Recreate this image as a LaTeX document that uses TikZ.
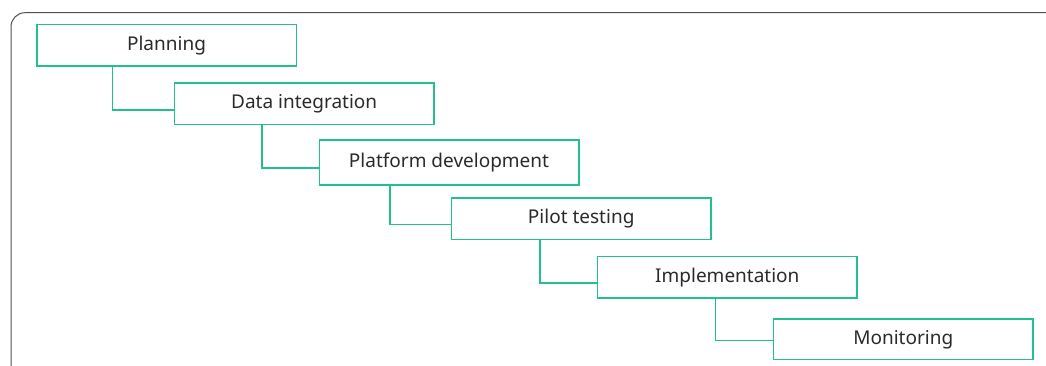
\documentclass[tikz,border=0pt]{standalone}
\usepackage{fontspec}
\setmainfont{Noto Sans}
\definecolor{boxgreen}{HTML}{22BF90}
\definecolor{txt}{HTML}{2A2A2A}
\definecolor{frame}{HTML}{505050}
\begin{document}
\begin{tikzpicture}[x=1pt,y=-1pt,
  stage/.style={draw=boxgreen,line width=1.5pt,minimum width=259.5pt,inner sep=0pt,
    text=txt,font=\fontsize{19pt}{22pt}\selectfont,text height=13.5pt,text depth=3.1pt},
  link/.style={draw=boxgreen,line width=1.5pt}]
\useasboundingbox (0,0) rectangle (1046,365);
\begin{scope}
\clip (0,0) rectangle (1046,365);
\draw[frame,line width=1pt,rounded corners=14pt] (11,380) -- (11,12.7) -- (1100,12.7) -- (1100,380) -- cycle;
\end{scope}
\node[stage,minimum height=41.3pt] (n1) at (166.5,45.35) {Planning};
\node[stage,minimum height=41.5pt] (n2) at (304.2,103.75) {Data integration};
\node[stage,minimum height=45pt] (n3) at (449,162.5) {Platform development};
\node[stage,minimum height=41.5pt] (n4) at (581.2,218.75) {Pilot testing};
\node[stage,minimum height=41.7pt] (n5) at (727.35,277.15) {Implementation};
\node[stage,minimum height=40.3pt] (n6) at (903.3,339.15) {Monitoring};
\draw[link] (n1.south west) ++(76.6,0) |- ([yshift=-6.25pt]n2.west);
\draw[link] (n2.south west) ++(88.4,0) |- ([yshift=-5.5pt]n3.west);
\draw[link] (n3.south west) ++(71.4,0) |- ([yshift=-5.6pt]n4.west);
\draw[link] (n4.south west) ++(89.4,0) |- ([yshift=-5.8pt]n5.west);
\draw[link] (n5.south west) ++(118.6,0) |- ([yshift=-1.5pt]n6.west);
\end{tikzpicture}
\end{document}
